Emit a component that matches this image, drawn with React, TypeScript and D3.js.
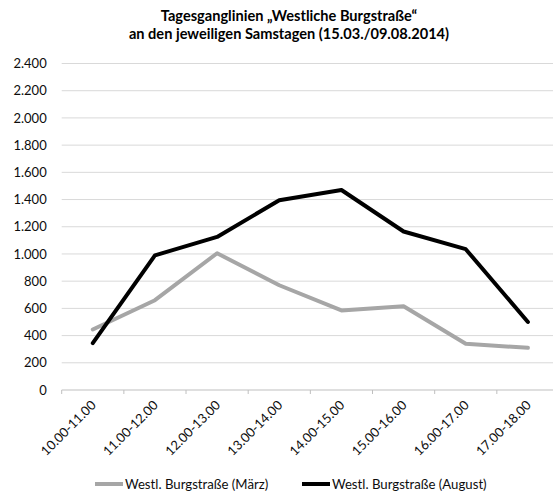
import React from "react";
import * as d3 from "d3";

const categories = [
  "10.00-11.00",
  "11.00-12.00",
  "12.00-13.00",
  "13.00-14.00",
  "14.00-15.00",
  "15.00-16.00",
  "16.00-17.00",
  "17.00-18.00",
];
const maerz = [445, 660, 1005, 770, 585, 615, 340, 310];
const august = [345, 990, 1125, 1395, 1470, 1165, 1035, 500];
const yTicks = [0, 200, 400, 600, 800, 1000, 1200, 1400, 1600, 1800, 2000, 2200, 2400];
const titleLines = [
  "Tagesganglinien „Westliche Burgstraße“",
  "an den jeweiligen Samstagen (15.03./09.08.2014)",
];
const seriesNames = ["Westl. Burgstraße (März)", "Westl. Burgstraße (August)"];

const W = 553;
const H = 492;
const FONT = "Lato, 'Open Sans', sans-serif";

export default function App() {
  const x = d3.scaleBand<string>().domain(categories).range([61.7, 559]);
  const y = d3.scaleLinear().domain([0, 2400]).range([390, 63.5]);
  const line = d3
    .line<number>()
    .x((_, i) => (x(categories[i]) as number) + x.bandwidth() / 2)
    .y((d) => y(d));
  const fmt = (v: number) => d3.format(",")(v).replace(/,/g, ".");
  const boundaries = d3.range(categories.length + 1).map((i) => 61.7 + i * x.bandwidth());

  return (
    <div style={{ position: "absolute", left: 0, top: 0 }}>
      <svg width={W} height={H} style={{ display: "block", background: "#fff" }} fontFamily={FONT}>
        <text x={289} textAnchor="middle" fontWeight="bold" fontSize={14.6} fill="#000">
          <tspan x={289} y={21}>{titleLines[0]}</tspan>
          <tspan x={289} y={39}>{titleLines[1]}</tspan>
        </text>
        {yTicks.map((t) =>
          t === 0 ? null : (
            <line key={t} x1={61.7} x2={W + 10} y1={y(t)} y2={y(t)} stroke="#d9d9d9" strokeWidth={1} />
          )
        )}
        <line x1={61.7} x2={W + 10} y1={y(0)} y2={y(0)} stroke="#bfbfbf" strokeWidth={1} />
        {boundaries.map((b, i) => (
          <line key={i} x1={b} x2={b} y1={y(0)} y2={y(0) + 4} stroke="#bfbfbf" strokeWidth={1} />
        ))}
        {yTicks.map((t) => (
          <text key={t} x={46.7} y={y(t)} dy="0.36em" textAnchor="end" fontSize={13} fill="#0d0d0d">
            {fmt(t)}
          </text>
        ))}
        {categories.map((c) => {
          const cx = (x(c) as number) + x.bandwidth() / 2;
          return (
            <text
              key={c}
              transform={`translate(${cx + 4},${406}) rotate(-45)`}
              textAnchor="end"
              fontSize={13}
              fill="#0d0d0d"
            >
              {c}
            </text>
          );
        })}
        <path d={line(maerz) || ""} fill="none" stroke="#a6a6a6" strokeWidth={4} strokeLinejoin="round" strokeLinecap="round" />
        <path d={line(august) || ""} fill="none" stroke="#000" strokeWidth={4} strokeLinejoin="round" strokeLinecap="round" />
        <line x1={95} x2={123} y1={484} y2={484} stroke="#a6a6a6" strokeWidth={4} />
        <text x={125} y={484} dy="0.36em" fontSize={13.2} fill="#0d0d0d">{seriesNames[0]}</text>
        <line x1={302} x2={330} y1={484} y2={484} stroke="#000" strokeWidth={4} />
        <text x={332} y={484} dy="0.36em" fontSize={13.2} fill="#0d0d0d">{seriesNames[1]}</text>
      </svg>
    </div>
  );
}
